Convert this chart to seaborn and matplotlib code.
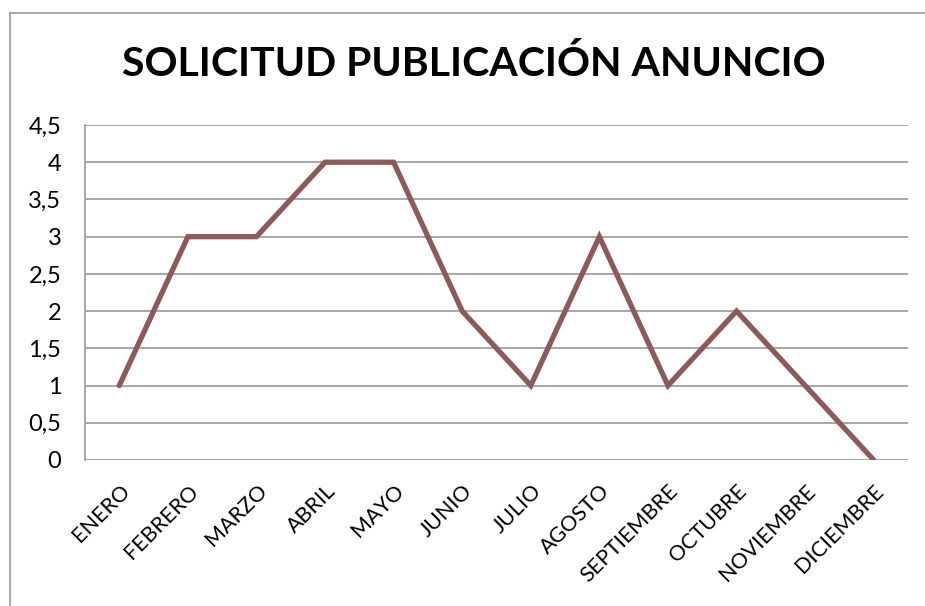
import matplotlib
matplotlib.use("Agg")
import matplotlib.pyplot as plt
import seaborn as sns
import pandas as pd
from matplotlib.lines import Line2D

months = ["ENERO", "FEBRERO", "MARZO", "ABRIL", "MAYO", "JUNIO", "JULIO",
          "AGOSTO", "SEPTIEMBRE", "OCTUBRE", "NOVIEMBRE", "DICIEMBRE"]
values = [1, 3, 3, 4, 4, 2, 1, 3, 1, 2, 1, 0]
yticks = [0, 0.5, 1, 1.5, 2, 2.5, 3, 3.5, 4, 4.5]
ytick_labels = ["0", "0,5", "1", "1,5", "2", "2,5", "3", "3,5", "4", "4,5"]
title = "SOLICITUD PUBLICACIÓN ANUNCIO"

sns.set_theme(style="white")
plt.rcParams['font.family'] = ['Lato', 'DejaVu Sans']

fig = plt.figure(figsize=(9.25, 6.06), dpi=100)
ax = fig.add_axes([85/925, 1-460/606, (908-85)/925, (460-125)/606])

df = pd.DataFrame({"x": list(range(len(months))), "y": values})
sns.lineplot(data=df, x="x", y="y", ax=ax, color="#8C5A5A", linewidth=3.8,
             solid_joinstyle="miter", solid_capstyle="round")

ax.set_xlim(-0.5, len(months) - 0.5)
ax.set_ylim(0, 4.5)
ax.set_yticks(yticks)
ax.set_yticklabels(ytick_labels, fontsize=17, color="black")
ax.set_xticks(range(len(months)))
ax.set_xticklabels(months, rotation=45, ha="right", rotation_mode="anchor",
                   fontsize=15.5, color="black")
ax.tick_params(axis="y", length=0, pad=17)
ax.tick_params(axis="x", length=0, pad=15)
ax.set_xlabel("")
ax.set_ylabel("")
ax.grid(axis="y", color="#A0A0A0", linewidth=1.3)
ax.set_axisbelow(True)
for s in ["top", "right"]:
    ax.spines[s].set_visible(False)
ax.spines["bottom"].set_visible(False)
ax.spines["left"].set_color("#A0A0A0")
ax.spines["left"].set_linewidth(1.3)

fig.text(474/925, 1-64/606, title, ha="center", va="center",
         fontsize=29.5, fontweight="bold", color="black")

# chart frame (left and top)
fig.add_artist(Line2D([9.5/925, 9.5/925], [0, 1-12.5/606], color="#A0A0A0", linewidth=1.3, transform=fig.transFigure))
fig.add_artist(Line2D([9.5/925, 1], [1-12.5/606, 1-12.5/606], color="#A0A0A0", linewidth=1.3, transform=fig.transFigure))

fig.savefig("out.png", dpi=100)
